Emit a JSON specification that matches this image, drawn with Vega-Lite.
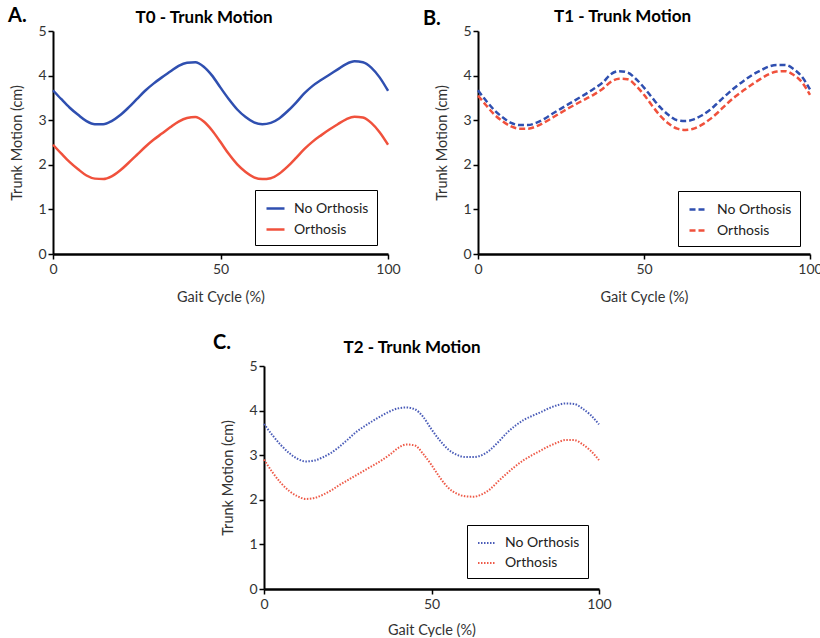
{
  "$schema": "https://vega.github.io/schema/vega-lite/v6.json",
  "padding": {"left": 8, "top": 5, "right": 0, "bottom": 0},
  "background": "white",
  "config": {
    "font": "Lato",
    "view": {"stroke": null},
    "axis": {"grid": false, "domainColor": "black", "tickColor": "black", "labelColor": "#333", "titleColor": "#333", "labelFontSize": 14, "titleFontSize": 14.5, "titleFontWeight": "normal", "labelFont": "Lato", "titleFont": "Lato"},
    "title": {"font": "Lato", "fontSize": 17, "fontWeight": "bold", "color": "black"},
    "legend": {"labelFont": "Lato"}
  },
  "datasets": {
    "t0": [
      {"cycle": 0, "No Orthosis": 3.67, "Orthosis": 2.45},
      {"cycle": 2.5, "No Orthosis": 3.47, "Orthosis": 2.25},
      {"cycle": 5, "No Orthosis": 3.28, "Orthosis": 2.06},
      {"cycle": 7.5, "No Orthosis": 3.12, "Orthosis": 1.9},
      {"cycle": 10, "No Orthosis": 2.98, "Orthosis": 1.76},
      {"cycle": 12.5, "No Orthosis": 2.91, "Orthosis": 1.69},
      {"cycle": 15, "No Orthosis": 2.91, "Orthosis": 1.68},
      {"cycle": 17.5, "No Orthosis": 2.98, "Orthosis": 1.74},
      {"cycle": 20, "No Orthosis": 3.11, "Orthosis": 1.87},
      {"cycle": 22.5, "No Orthosis": 3.28, "Orthosis": 2.04},
      {"cycle": 25, "No Orthosis": 3.47, "Orthosis": 2.22},
      {"cycle": 27.5, "No Orthosis": 3.66, "Orthosis": 2.4},
      {"cycle": 30, "No Orthosis": 3.82, "Orthosis": 2.56},
      {"cycle": 32.5, "No Orthosis": 3.96, "Orthosis": 2.7},
      {"cycle": 35, "No Orthosis": 4.09, "Orthosis": 2.84},
      {"cycle": 37.5, "No Orthosis": 4.22, "Orthosis": 2.97},
      {"cycle": 40, "No Orthosis": 4.29, "Orthosis": 3.05},
      {"cycle": 42.5, "No Orthosis": 4.3, "Orthosis": 3.07},
      {"cycle": 45, "No Orthosis": 4.2, "Orthosis": 2.97},
      {"cycle": 47.5, "No Orthosis": 4.0, "Orthosis": 2.77},
      {"cycle": 50, "No Orthosis": 3.73, "Orthosis": 2.51},
      {"cycle": 52.5, "No Orthosis": 3.47, "Orthosis": 2.24},
      {"cycle": 55, "No Orthosis": 3.24, "Orthosis": 2.01},
      {"cycle": 57.5, "No Orthosis": 3.07, "Orthosis": 1.84},
      {"cycle": 60, "No Orthosis": 2.95, "Orthosis": 1.72},
      {"cycle": 62.5, "No Orthosis": 2.91, "Orthosis": 1.68},
      {"cycle": 65, "No Orthosis": 2.94, "Orthosis": 1.7},
      {"cycle": 67.5, "No Orthosis": 3.04, "Orthosis": 1.8},
      {"cycle": 70, "No Orthosis": 3.2, "Orthosis": 1.96},
      {"cycle": 72.5, "No Orthosis": 3.39, "Orthosis": 2.15},
      {"cycle": 75, "No Orthosis": 3.6, "Orthosis": 2.35},
      {"cycle": 77.5, "No Orthosis": 3.77, "Orthosis": 2.52},
      {"cycle": 80, "No Orthosis": 3.9, "Orthosis": 2.66},
      {"cycle": 82.5, "No Orthosis": 4.02, "Orthosis": 2.79},
      {"cycle": 85, "No Orthosis": 4.14, "Orthosis": 2.91},
      {"cycle": 87.5, "No Orthosis": 4.26, "Orthosis": 3.02},
      {"cycle": 90, "No Orthosis": 4.32, "Orthosis": 3.08},
      {"cycle": 92.5, "No Orthosis": 4.3, "Orthosis": 3.06},
      {"cycle": 95, "No Orthosis": 4.18, "Orthosis": 2.94},
      {"cycle": 97.5, "No Orthosis": 3.96, "Orthosis": 2.73},
      {"cycle": 100, "No Orthosis": 3.66, "Orthosis": 2.45}
    ],
    "t1": [
      {"cycle": 0, "No Orthosis": 3.67, "Orthosis": 3.55},
      {"cycle": 2.5, "No Orthosis": 3.43, "Orthosis": 3.33},
      {"cycle": 5, "No Orthosis": 3.22, "Orthosis": 3.12},
      {"cycle": 7.5, "No Orthosis": 3.06, "Orthosis": 2.97},
      {"cycle": 10, "No Orthosis": 2.94, "Orthosis": 2.86},
      {"cycle": 12.5, "No Orthosis": 2.89, "Orthosis": 2.81},
      {"cycle": 15, "No Orthosis": 2.89, "Orthosis": 2.81},
      {"cycle": 17.5, "No Orthosis": 2.94, "Orthosis": 2.86},
      {"cycle": 20, "No Orthosis": 3.03, "Orthosis": 2.95},
      {"cycle": 22.5, "No Orthosis": 3.15, "Orthosis": 3.06},
      {"cycle": 25, "No Orthosis": 3.26, "Orthosis": 3.17},
      {"cycle": 27.5, "No Orthosis": 3.37, "Orthosis": 3.28},
      {"cycle": 30, "No Orthosis": 3.48, "Orthosis": 3.38},
      {"cycle": 32.5, "No Orthosis": 3.59, "Orthosis": 3.48},
      {"cycle": 35, "No Orthosis": 3.71, "Orthosis": 3.58},
      {"cycle": 37.5, "No Orthosis": 3.84, "Orthosis": 3.7},
      {"cycle": 40, "No Orthosis": 4.03, "Orthosis": 3.86},
      {"cycle": 42.5, "No Orthosis": 4.1, "Orthosis": 3.93},
      {"cycle": 45, "No Orthosis": 4.07, "Orthosis": 3.92},
      {"cycle": 47.5, "No Orthosis": 3.93, "Orthosis": 3.78},
      {"cycle": 50, "No Orthosis": 3.73, "Orthosis": 3.57},
      {"cycle": 52.5, "No Orthosis": 3.5, "Orthosis": 3.32},
      {"cycle": 55, "No Orthosis": 3.28, "Orthosis": 3.09},
      {"cycle": 57.5, "No Orthosis": 3.11, "Orthosis": 2.92},
      {"cycle": 60, "No Orthosis": 3.0, "Orthosis": 2.81},
      {"cycle": 62.5, "No Orthosis": 2.98, "Orthosis": 2.78},
      {"cycle": 65, "No Orthosis": 3.02, "Orthosis": 2.81},
      {"cycle": 67.5, "No Orthosis": 3.11, "Orthosis": 2.9},
      {"cycle": 70, "No Orthosis": 3.24, "Orthosis": 3.03},
      {"cycle": 72.5, "No Orthosis": 3.41, "Orthosis": 3.19},
      {"cycle": 75, "No Orthosis": 3.58, "Orthosis": 3.37},
      {"cycle": 77.5, "No Orthosis": 3.74, "Orthosis": 3.53},
      {"cycle": 80, "No Orthosis": 3.88, "Orthosis": 3.67},
      {"cycle": 82.5, "No Orthosis": 4.01, "Orthosis": 3.8},
      {"cycle": 85, "No Orthosis": 4.11, "Orthosis": 3.92},
      {"cycle": 87.5, "No Orthosis": 4.2, "Orthosis": 4.03},
      {"cycle": 90, "No Orthosis": 4.24, "Orthosis": 4.09},
      {"cycle": 92.5, "No Orthosis": 4.24, "Orthosis": 4.1},
      {"cycle": 95, "No Orthosis": 4.15, "Orthosis": 4.02},
      {"cycle": 97.5, "No Orthosis": 3.98, "Orthosis": 3.86},
      {"cycle": 100, "No Orthosis": 3.69, "Orthosis": 3.57}
    ],
    "t2": [
      {"cycle": 0, "No Orthosis": 3.7, "Orthosis": 2.9},
      {"cycle": 2.5, "No Orthosis": 3.45, "Orthosis": 2.62},
      {"cycle": 5, "No Orthosis": 3.23, "Orthosis": 2.38},
      {"cycle": 7.5, "No Orthosis": 3.05, "Orthosis": 2.2},
      {"cycle": 10, "No Orthosis": 2.92, "Orthosis": 2.08},
      {"cycle": 12.5, "No Orthosis": 2.86, "Orthosis": 2.02},
      {"cycle": 15, "No Orthosis": 2.88, "Orthosis": 2.04},
      {"cycle": 17.5, "No Orthosis": 2.95, "Orthosis": 2.11},
      {"cycle": 20, "No Orthosis": 3.05, "Orthosis": 2.21},
      {"cycle": 22.5, "No Orthosis": 3.19, "Orthosis": 2.33},
      {"cycle": 25, "No Orthosis": 3.35, "Orthosis": 2.44},
      {"cycle": 27.5, "No Orthosis": 3.52, "Orthosis": 2.55},
      {"cycle": 30, "No Orthosis": 3.65, "Orthosis": 2.66},
      {"cycle": 32.5, "No Orthosis": 3.77, "Orthosis": 2.77},
      {"cycle": 35, "No Orthosis": 3.88, "Orthosis": 2.88},
      {"cycle": 37.5, "No Orthosis": 3.98, "Orthosis": 3.01},
      {"cycle": 40, "No Orthosis": 4.05, "Orthosis": 3.16},
      {"cycle": 42.5, "No Orthosis": 4.07, "Orthosis": 3.24},
      {"cycle": 45, "No Orthosis": 4.03, "Orthosis": 3.22},
      {"cycle": 47.5, "No Orthosis": 3.86, "Orthosis": 3.03},
      {"cycle": 50, "No Orthosis": 3.58, "Orthosis": 2.78},
      {"cycle": 52.5, "No Orthosis": 3.33, "Orthosis": 2.5},
      {"cycle": 55, "No Orthosis": 3.13, "Orthosis": 2.27},
      {"cycle": 57.5, "No Orthosis": 3.01, "Orthosis": 2.14},
      {"cycle": 60, "No Orthosis": 2.96, "Orthosis": 2.08},
      {"cycle": 62.5, "No Orthosis": 2.96, "Orthosis": 2.07},
      {"cycle": 65, "No Orthosis": 3.0, "Orthosis": 2.12},
      {"cycle": 67.5, "No Orthosis": 3.12, "Orthosis": 2.24},
      {"cycle": 70, "No Orthosis": 3.3, "Orthosis": 2.42},
      {"cycle": 72.5, "No Orthosis": 3.5, "Orthosis": 2.59},
      {"cycle": 75, "No Orthosis": 3.66, "Orthosis": 2.75},
      {"cycle": 77.5, "No Orthosis": 3.79, "Orthosis": 2.89},
      {"cycle": 80, "No Orthosis": 3.88, "Orthosis": 3.0},
      {"cycle": 82.5, "No Orthosis": 3.96, "Orthosis": 3.1},
      {"cycle": 85, "No Orthosis": 4.05, "Orthosis": 3.2},
      {"cycle": 87.5, "No Orthosis": 4.12, "Orthosis": 3.28},
      {"cycle": 90, "No Orthosis": 4.16, "Orthosis": 3.34},
      {"cycle": 92.5, "No Orthosis": 4.15, "Orthosis": 3.34},
      {"cycle": 95, "No Orthosis": 4.05, "Orthosis": 3.25},
      {"cycle": 97.5, "No Orthosis": 3.9, "Orthosis": 3.1},
      {"cycle": 100, "No Orthosis": 3.69, "Orthosis": 2.89}
    ]
  },
  "spacing": 28,
  "resolve": {"scale": {"color": "independent"}, "legend": {"color": "independent"}},
  "vconcat": [
    {
      "bounds": "flush",
      "spacing": 90,
      "resolve": {"scale": {"color": "independent"}, "legend": {"color": "independent"}},
      "hconcat": [
        {
          "width": 335, "height": 223,
          "title": {"text": "T0 - Trunk Motion", "frame": "bounds", "anchor": "middle", "offset": 0, "dy": 21},
          "layer": [
            {
              "data": {"name": "t0"},
              "transform": [{"fold": ["No Orthosis", "Orthosis"], "as": ["Condition", "Motion"]}],
              "mark": {"type": "line", "strokeWidth": 2.5, "interpolate": "monotone"},
              "encoding": {
                "x": {"field": "cycle", "type": "quantitative", "title": "Gait Cycle (%)", "scale": {"domain": [0, 100], "nice": false}, "axis": {"values": [0, 50, 100], "domainWidth": 2.5, "tickSize": 5, "tickWidth": 1.5, "labelPadding": 3, "titlePadding": 14, "labelFlush": false}},
                "y": {"field": "Motion", "type": "quantitative", "title": "Trunk Motion (cm)", "scale": {"domain": [0, 5], "nice": false}, "axis": {"values": [0, 1, 2, 3, 4, 5], "domainWidth": 2, "tickSize": 5, "tickWidth": 1.5, "labelPadding": 2, "titlePadding": 13}},
                "color": {"field": "Condition", "type": "nominal", "scale": {"domain": ["No Orthosis", "Orthosis"], "range": ["#2f4fb0", "#f0513c"]},
                  "legend": {"title": null, "orient": "none", "legendX": 202, "legendY": 159, "strokeColor": "black", "padding": 8, "symbolOffset": 2, "symbolType": "stroke", "symbolSize": 324, "symbolStrokeWidth": 2.5, "labelFontSize": 14, "labelColor": "#222", "rowPadding": 3, "labelOffset": 8}}
              }
            },
            {
              "data": {"values": [{"label": "A."}]},
              "mark": {"type": "text", "fontSize": 20, "fontWeight": "bold", "align": "left", "baseline": "middle", "color": "black"},
              "encoding": {
                "x": {"datum": -13.4, "type": "quantitative", "title": "Gait Cycle (%)"},
                "y": {"datum": 5.34, "type": "quantitative", "title": "Trunk Motion (cm)"},
                "text": {"field": "label"}
              }
            }
          ]
        },
        {
          "width": 332, "height": 223,
          "title": {"text": "T1 - Trunk Motion", "frame": "bounds", "anchor": "middle", "offset": 0, "dy": 17},
          "layer": [
            {
              "data": {"name": "t1"},
              "transform": [{"fold": ["No Orthosis", "Orthosis"], "as": ["Condition", "Motion"]}],
              "mark": {"type": "line", "strokeWidth": 2.5, "interpolate": "monotone", "strokeDash": [6, 3]},
              "encoding": {
                "x": {"field": "cycle", "type": "quantitative", "title": "Gait Cycle (%)", "scale": {"domain": [0, 100], "nice": false}, "axis": {"values": [0, 50, 100], "domainWidth": 2.5, "tickSize": 5, "tickWidth": 1.5, "labelPadding": 3, "titlePadding": 14, "labelFlush": false}},
                "y": {"field": "Motion", "type": "quantitative", "title": "Trunk Motion (cm)", "scale": {"domain": [0, 5], "nice": false}, "axis": {"values": [0, 1, 2, 3, 4, 5], "domainWidth": 2, "tickSize": 5, "tickWidth": 1.5, "labelPadding": 2, "titlePadding": 13}},
                "color": {"field": "Condition", "type": "nominal", "scale": {"domain": ["No Orthosis", "Orthosis"], "range": ["#2f4fb0", "#f0513c"]},
                  "legend": {"title": null, "orient": "none", "legendX": 200, "legendY": 160, "strokeColor": "black", "padding": 8, "symbolOffset": 2, "symbolType": "stroke", "symbolSize": 324, "symbolStrokeWidth": 2.5, "symbolDash": [6, 3], "labelFontSize": 14, "labelColor": "#222", "rowPadding": 3, "labelOffset": 8}}
              }
            },
            {
              "data": {"values": [{"label": "B."}]},
              "mark": {"type": "text", "fontSize": 20, "fontWeight": "bold", "align": "left", "baseline": "middle", "color": "black"},
              "encoding": {
                "x": {"datum": -16.6, "type": "quantitative", "title": "Gait Cycle (%)"},
                "y": {"datum": 5.27, "type": "quantitative", "title": "Trunk Motion (cm)"},
                "text": {"field": "label"}
              }
            }
          ]
        }
      ]
    },
    {
      "bounds": "flush",
      "spacing": 10,
      "resolve": {"scale": {"color": "independent"}, "legend": {"color": "independent"}},
      "hconcat": [
        {
          "width": 201, "height": 223,
          "data": {"values": []},
          "mark": "point",
          "encoding": {}
        },
        {
          "width": 335, "height": 223,
          "title": {"text": "T2 - Trunk Motion", "frame": "bounds", "anchor": "middle", "offset": 0, "dy": 24},
          "layer": [
            {
              "data": {"name": "t2"},
              "transform": [{"fold": ["No Orthosis", "Orthosis"], "as": ["Condition", "Motion"]}],
              "mark": {"type": "line", "strokeWidth": 2, "interpolate": "monotone", "strokeDash": [1.5, 1.5]},
              "encoding": {
                "x": {"field": "cycle", "type": "quantitative", "title": "Gait Cycle (%)", "scale": {"domain": [0, 100], "nice": false}, "axis": {"values": [0, 50, 100], "domainWidth": 2.5, "tickSize": 5, "tickWidth": 1.5, "labelPadding": 3, "titlePadding": 12, "labelFlush": false}},
                "y": {"field": "Motion", "type": "quantitative", "title": "Trunk Motion (cm)", "scale": {"domain": [0, 5], "nice": false}, "axis": {"values": [0, 1, 2, 3, 4, 5], "domainWidth": 2, "tickSize": 5, "tickWidth": 1.5, "labelPadding": 2, "titlePadding": 13}},
                "color": {"field": "Condition", "type": "nominal", "scale": {"domain": ["No Orthosis", "Orthosis"], "range": ["#4a5cb8", "#ee5a48"]},
                  "legend": {"title": null, "orient": "none", "legendX": 203, "legendY": 159, "strokeColor": "black", "padding": 8, "symbolOffset": 2, "symbolType": "stroke", "symbolSize": 324, "symbolStrokeWidth": 2, "symbolDash": [1.5, 1.5], "labelFontSize": 14, "labelColor": "#222", "rowPadding": 3, "labelOffset": 8}}
              }
            },
            {
              "data": {"values": [{"label": "C."}]},
              "mark": {"type": "text", "fontSize": 20, "fontWeight": "bold", "align": "left", "baseline": "middle", "color": "black"},
              "encoding": {
                "x": {"datum": -15.2, "type": "quantitative", "title": "Gait Cycle (%)"},
                "y": {"datum": 5.52, "type": "quantitative", "title": "Trunk Motion (cm)"},
                "text": {"field": "label"}
              }
            }
          ]
        }
      ]
    }
  ]
}
